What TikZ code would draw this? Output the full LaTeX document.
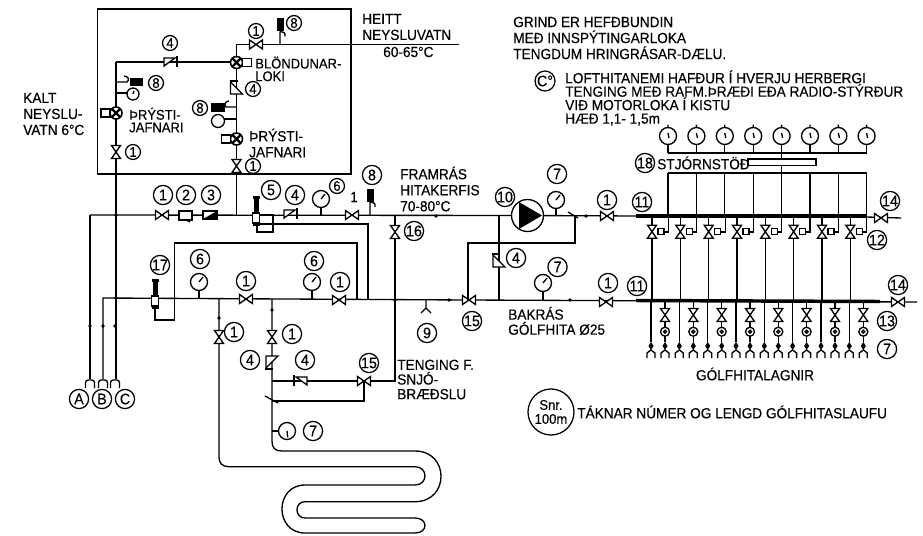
\documentclass[tikz,border=0pt]{standalone}
\usepackage{fontspec}
\setmainfont{Liberation Sans}[FakeStretch=0.93, FakeBold=0.3]
\tikzset{
    pipe/.style={line width=1pt},
    heavy/.style={line width=2.6pt},
    num/.style={circle, draw, line width=0.95pt, minimum size=14.4pt, inner sep=0pt, font=\fontsize{11.5}{11.5}\selectfont},
    numsm/.style={num, minimum size=11.2pt, font=\fontsize{10.5}{10.5}\selectfont},
    txt/.style={anchor=west, align=left, inner sep=0pt, font=\fontsize{11}{12}\selectfont},
    tight/.style={anchor=west, align=left, inner sep=0pt, font=\fontsize{10.5}{9.5}\selectfont},
    valve/.pic={\draw[pipe, fill=white] (-6.5,-4.5) -- (6.5,4.5) -- (6.5,-4.5) -- (-6.5,4.5) -- cycle;},
    check/.pic={\draw[pipe, fill=white] (-6,-4) -- (-6,4) -- (5,-4) -- cycle; \draw[pipe] (7,-6) -- (7,5);},
    vcheck/.pic={\draw[pipe, fill=white] (-6,-6) -- (-6,6) -- (6,6) -- cycle; \draw[pipe] (-7,-7) -- (1,-7);},
    gauge/.pic={\draw[pipe, fill=white] (0,0) circle (8.5); \draw[pipe] (0,0) -- (4,-5);},
    vent/.pic={\fill (-3.5,-26) rectangle (3.5,-13); \draw[pipe] (0,-13) -- (0,0) (0,-13) .. controls (5,-12) .. (5,-8);},
    mixer/.pic={\draw[line width=1.2pt, fill=white] (0,0) circle (6); \draw[line width=1.7pt] (-4.5,-4.5) -- (4.5,4.5) (4.5,-4.5) -- (-4.5,4.5);
        \draw[pipe, fill=white] (6,-4) rectangle (15,4);},
    stack/.pic={\fill (-2.5,-16) rectangle (2.5,-2); \fill (-3.5,-19) rectangle (3.5,-16); \draw[pipe, fill=white] (-3.5,-2) rectangle (3.5,8); \fill (-3.5,8) rectangle (3.5,11);},
    tail/.pic={\fill (0,-8) -- (2.5,-4) -- (0,0) -- (-2.5,-4) -- cycle; \draw[pipe] (-4,8) -- (-4,3) -- (0,0) -- (4,3) -- (4,8);},
}
\begin{document}
\begin{tikzpicture}[x=0.75pt, y=-0.75pt]
    \useasboundingbox (0,0) rectangle (923,535);

    % cabinet
    \draw[pipe] (97.5,9) rectangle (351,174);

    % main junctions
    \coordinate (supA) at (90,215);
    \coordinate (coldB) at (103,298);
    \coordinate (coldC) at (116,62);
    \coordinate (hot) at (236.5,44.5);
    \coordinate (hotEnd) at (459,44.5);
    \coordinate (hotTee) at (236.5,215);
    \coordinate (pumpC) at (527.5,215.5);
    \coordinate (snow) at (395,300);
    \coordinate (floorA) at (219,299);
    \coordinate (floorB) at (272,299);
    \coordinate (valveS) at (364,381);
    \coordinate (mixR) at (575,216);
    \coordinate (mixV) at (468,300);

    % pipes
    \draw[pipe] (coldC) -- (116,379);
    \draw[pipe] (coldC) -- (236.5,62);
    \draw[pipe] (hotEnd) -- (hot) -- (hotTee);
    \draw[pipe] (supA) -- (pumpC);
    \draw[pipe] (supA) -- (90,379);
    \draw[pipe] (103,379) -- (coldB) -- (mixV);
    \draw[pipe] (259,224) -- (368,224) -- (368,299);
    \draw[pipe] (357,299) -- (357,243) -- (174.5,243) -- (174.5,320) -- (155,320) -- (155,306);
    \draw[pipe] (258,215) -- (273,215) -- (273,232) -- (257,232) -- (257,226);
    \draw[pipe] (395,215) -- (snow) -- (395,381) -- (valveS);
    \draw[pipe] (272,381) -- (valveS) -- (364,401) -- (272,401);
    \draw[pipe] (265,396) -- (278,403);
    \draw[pipe] (272,431) -- (279,431);

    % slab loop
    \draw[pipe] (floorB) -- (272,441) .. controls (272,448) and (275,451) .. (282,451)
        -- (415,451) .. controls (449.7,451) and (449.7,501.7) .. (415,501.7)
        -- (305,501.7) .. controls (294.3,501.7) and (294.3,518) .. (305,518)
        -- (415,518) .. controls (428.3,518) and (428.3,533) .. (415,533)
        -- (305,533) .. controls (274.3,533) and (274.3,485) .. (305,485)
        -- (415,485) .. controls (428.3,485) and (428.3,466.7) .. (415,466.7)
        -- (229,466.7) .. controls (222,466.7) and (219,463) .. (219,457) -- (floorA);

    % pump and bypass
    \draw[pipe] (pumpC) -- (636,216);
    \draw[pipe] (568,212) -- (578,218);
    \draw[pipe] (mixR) -- (575,243) -- (468,243) -- (mixV);
    \draw[pipe] (499,215.5) -- (499,300);
    \draw[pipe] (mixV) -- (917,302);
    \draw[pipe] (866,217) -- (901,218);
    \draw[pipe, fill=white] (pumpC) circle (16);
    \fill (519,202) -- (542,215.5) -- (519,229) -- cycle;
    \draw[heavy] (636,216) -- (866,216);
    \draw[heavy] (636,300.5) -- (880,301.5);

    % end caps A B C
    \foreach \px in {90,103,115} {
        \draw[pipe, rounded corners=2pt] (\px-4.5,388) -- (\px-4.5,380) -- (\px+4.5,380) -- (\px+4.5,388);
        \fill (\px,326) circle (1.8);
    }
    \foreach \px/\py in {116/298,116/215,219/318,272/310,395/300,436/216,449/300,570/300,586/216} {
        \fill (\px,\py) circle (1.8);
    }

    % shut-off valves
    \foreach \px/\py in {256/44.5,162/215,352/215,246/299,339/300,469/300,364/381,607/216,606/302,881/218,898/302} {
        \pic at (\px,\py) {valve};
    }
    \foreach \px/\py in {116/152,236.5/166,395/232,219/337,272/337} {
        \pic[rotate=90] at (\px,\py) {valve};
    }

    % check valves
    \pic at (170,62) {check};
    \pic at (290,214) {check};
    \pic[xscale=-1] at (301,381) {check};
    \pic at (236.5,88) {vcheck};
    \pic at (499,261) {vcheck};
    \pic[yscale=-1] at (272,362) {vcheck};

    % mixers and equalisers
    \pic at (236.5,62.5) {mixer};
    \pic[xscale=-1] at (116,113) {mixer};
    \pic[xscale=-1] at (236.5,139) {mixer};

    % strainers and filter
    \draw[pipe, fill=white] (179,211) rectangle (192,220);
    \draw[pipe] (186,220) -- (190,222);
    \draw[pipe, fill=white] (203,211) rectangle (217,219);
    \fill (203,219) -- (217,211) -- (217,219) -- cycle;
    \pic at (256,215) {stack};
    \pic at (155,298) {stack};

    % vents and gauges
    \pic at (280,44.5) {vent};
    \pic at (370,215) {vent};
    \draw[pipe] (116,82) -- (127,82) .. controls (130,80) and (128,76) .. (124,76);
    \fill (130,78) rectangle (143,86);
    \draw[pipe] (116,93) -- (127,93);
    \draw[pipe, fill=white] (133,94) circle (6);
    \draw[pipe] (133,94) -- (134,91);
    \draw[pipe] (236.5,107) -- (226,107) .. controls (223,105) and (226,101) .. (229,101);
    \fill (211,103) rectangle (225,112);
    \draw[pipe] (236.5,119) -- (224,119);
    \draw[pipe, fill=white] (218,121) circle (6.5);
    \draw[pipe] (321,215) -- (321,207);
    \pic at (321,199) {gauge};
    \draw[pipe] (199,298) -- (199,290);
    \pic at (199,282) {gauge};
    \draw[pipe] (312,299) -- (312,290);
    \pic at (312,282) {gauge};
    \draw[pipe] (556,215.5) -- (556,208);
    \pic at (556,200) {gauge};
    \draw[pipe] (543,300) -- (543,291);
    \pic at (543,283) {gauge};
    \pic[rotate=-135] at (287,431) {gauge};
    \draw[pipe] (426,300) -- (426,308) (421,313) -- (426,308) -- (431,313);

    % control station
    \draw[pipe] (668,173) -- (866.6,173);
    \draw[pipe] (668,153) -- (866.6,153);
    \draw[pipe, fill=white] (748,159) rectangle (816,165.6);
    \draw[pipe] (781.6,153) -- (781.6,159) (781.6,165.6) -- (781.6,173);
    \foreach \px in {668,696.4,724.8,753.2,781.6,810,838.4,866.6} {
        \draw[pipe] (\px,216) -- (\px,173);
        \draw[pipe] (\px,153) -- (\px,144.5);
        \draw[pipe, fill=white] (\px,136) circle (8.5);
        \draw[pipe] (\px,124.5) -- (\px,127.5) (\px,133) -- (\px+1,138);
    }

    % zone valves
    \foreach \px in {652,680.3,708.7,737,765.3,793.6,822,850.3} {
        \draw[pipe] (\px,216) -- (\px,300);
        \draw[pipe] (\px+16.5,216) -- (\px+16.5,232) -- (\px+12,232);
        \pic[rotate=90] at (\px,231.7) {valve};
        \draw[pipe, fill=white] (\px+6,228.7) rectangle (\px+12,234.7);
        \draw[pipe] (\px-1,301) -- (\px-1,342);
        \pic at (\px-1,350) {tail};
        \draw[pipe] (\px+13,301) -- (\px+13,342);
        \pic[rotate=90] at (\px+13,315) {valve};
        \draw[pipe, fill=white] (\px+13,331.7) circle (4.5);
        \draw[pipe] (\px+13,331.7) circle (1.5);
        \pic at (\px+13,350) {tail};
    }

    % numbers
    \node[numsm] (one1) at (256,31) {1};
    \node[numsm] (eight1) at (294,23) {8};
    \node[numsm] (four1) at (170,43) {4};
    \node[numsm] (four2) at (253,89) {4};
    \node[numsm] (eight2) at (156,83) {8};
    \node[numsm] (eight3) at (200,108) {8};
    \node[numsm] (one2) at (133,152) {1};
    \node[numsm] (one3) at (253,166) {1};
    \node[num] (one4) at (163,195) {1};
    \node[num] (two1) at (186,195) {2};
    \node[num] (three1) at (211,195) {3};
    \node[num] (five1) at (271,190) {5};
    \node[num] (four3) at (295,195) {4};
    \node[numsm] (six1) at (337,186) {6};
    \node[num] (eight4) at (372,175) {8};
    \node[num] (sixteen1) at (414,231) {16};
    \node[num] (seventeen1) at (160,265) {17};
    \node[num] (six2) at (200,259) {6};
    \node[num] (one5) at (246,281) {1};
    \node[num] (six3) at (314,261) {6};
    \node[num] (one6) at (340,282) {1};
    \node[num] (one7) at (234,332) {1};
    \node[num] (one8) at (292,334) {1};
    \node[num] (four4) at (250,360) {4};
    \node[num] (four5) at (305,360) {4};
    \node[num] (fifteen1) at (369,363) {15};
    \node[num] (seven1) at (313,431) {7};
    \node[num] (nine1) at (427,333) {9};
    \node[num] (fifteen2) at (472,321) {15};
    \node[num] (ten1) at (505,197) {10};
    \node[num] (seven2) at (557,174) {7};
    \node[num] (four6) at (516,258) {4};
    \node[num] (seven3) at (557.5,267) {7};
    \node[num] (one9) at (607,200) {1};
    \node[num] (one10) at (608,283) {1};
    \node[num] (eleven1) at (642,202) {11};
    \node[num] (eleven2) at (637,286) {11};
    \node[num] (twelve1) at (877,240) {12};
    \node[num] (thirteen1) at (887,321) {13};
    \node[num] (seven4) at (887,349) {7};
    \node[num] (fourteen1) at (890,201) {14};
    \node[num] (fourteen2) at (898,285) {14};
    \node[num] (eighteen1) at (645,163) {18};
    \node[num] (mA) at (79,399) {A};
    \node[num] (mB) at (102,399) {B};
    \node[num] (mC) at (125,399) {C};
    \node[num, minimum size=15pt] (mT) at (545,81) {C°};
    \node[num, minimum size=34.5pt, font=\fontsize{10.5}{10.5}\selectfont, align=center] (snr) at (551,412) {Snr.\\100m};

    % texts
    \node[txt] (heitt) at (362,27) {HEITT\\NEYSLUVATN};
    \node[txt] (heittC) at (383,52) {60-65°C};
    \node[txt] (kalt) at (23,114) {KALT\\NEYSLU-\\VATN 6°C};
    \node[tight] (blond) at (255,69) {BLÖNDUNAR-\\LOKI};
    \node[tight] (prys1) at (129,120) {ÞRÝSTI-\\JAFNARI};
    \node[txt] (prys2) at (249,143) {ÞRÝSTI-\\JAFNARI};
    \node[txt] (fram) at (400,189) {FRAMRÁS\\HITAKERFIS\\70-80°C};
    \node[txt] (plainone) at (350,197) {1};
    \node[txt] (grind) at (513,38) {GRIND ER HEFÐBUNDIN\\MEÐ INNSPÝTINGARLOKA\\TENGDUM HRINGRÁSAR-DÆLU.};
    \node[tight, font=\fontsize{11}{10.1}\selectfont] (loft) at (565,98) {LOFTHITANEMI HAFÐUR Í HVERJU HERBERGI\\TENGING MEÐ RAFM.ÞRÆÐI EÐA RADIO-STÝRÐUR\\VIÐ MOTORLOKA Í KISTU\\HÆÐ 1,1- 1,5m};
    \node[txt] (stjorn) at (657,163) {STJÓRNSTÖÐ};
    \node[tight, font=\fontsize{11}{11.3}\selectfont] (bakras) at (508,321) {BAKRÁS\\GÓLFHITA Ø25};
    \node[tight, font=\fontsize{11}{11}\selectfont] (tenging) at (397,379.5) {TENGING F.\\SNJÓ-\\BRÆÐSLU};
    \node[txt, anchor=center] (golf) at (755,374) {GÓLFHITALAGNIR};
    \node[txt] (taknar) at (577,412) {TÁKNAR NÚMER OG LENGD GÓLFHITASLAUFU};
\end{tikzpicture}
\end{document}
